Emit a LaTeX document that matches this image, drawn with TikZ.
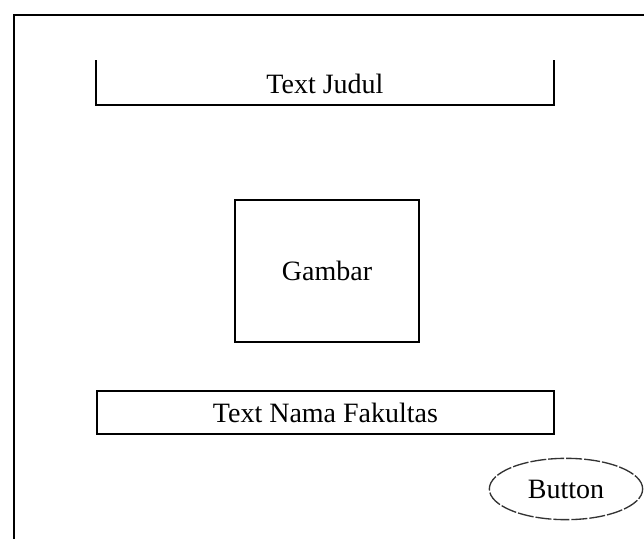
\documentclass[tikz,border=0pt]{standalone}
\usepackage{fontspec}
\setmainfont{Liberation Serif}
\usetikzlibrary{shapes.geometric}
\tikzset{kotak/.style={draw, line width=1.5pt, inner sep=0pt},
         tulisan/.style={font=\fontsize{21}{24}\selectfont}}

\begin{document}
\begin{tikzpicture}[x=0.75pt,y=-0.75pt]
\useasboundingbox (0,0) rectangle (644,539);

% frame
\draw[line width=1.6pt] (14,539) -- (14,15) -- (644,15);

% judul
\draw[line width=1.5pt] (96,60) -- (96,105) -- (554,105) -- (554,60);
\node[tulisan] (judul) at (325,84) {Text Judul};

% gambar
\node[kotak,tulisan,minimum width=138pt,minimum height=107pt] (gambar) at (327,271) {Gambar};

% nama fakultas
\node[kotak,tulisan,minimum width=343pt,minimum height=32pt] (fakultas) at (325.5,412.5) {Text Nama Fakultas};

% tombol
\node[draw,ellipse,tulisan,black!80,text=black,line width=1pt,dash pattern=on 12pt off 1.5pt,
      minimum width=115pt,minimum height=46pt,inner sep=0pt] (tombol) at (566,489) {Button};
\end{tikzpicture}
\end{document}
